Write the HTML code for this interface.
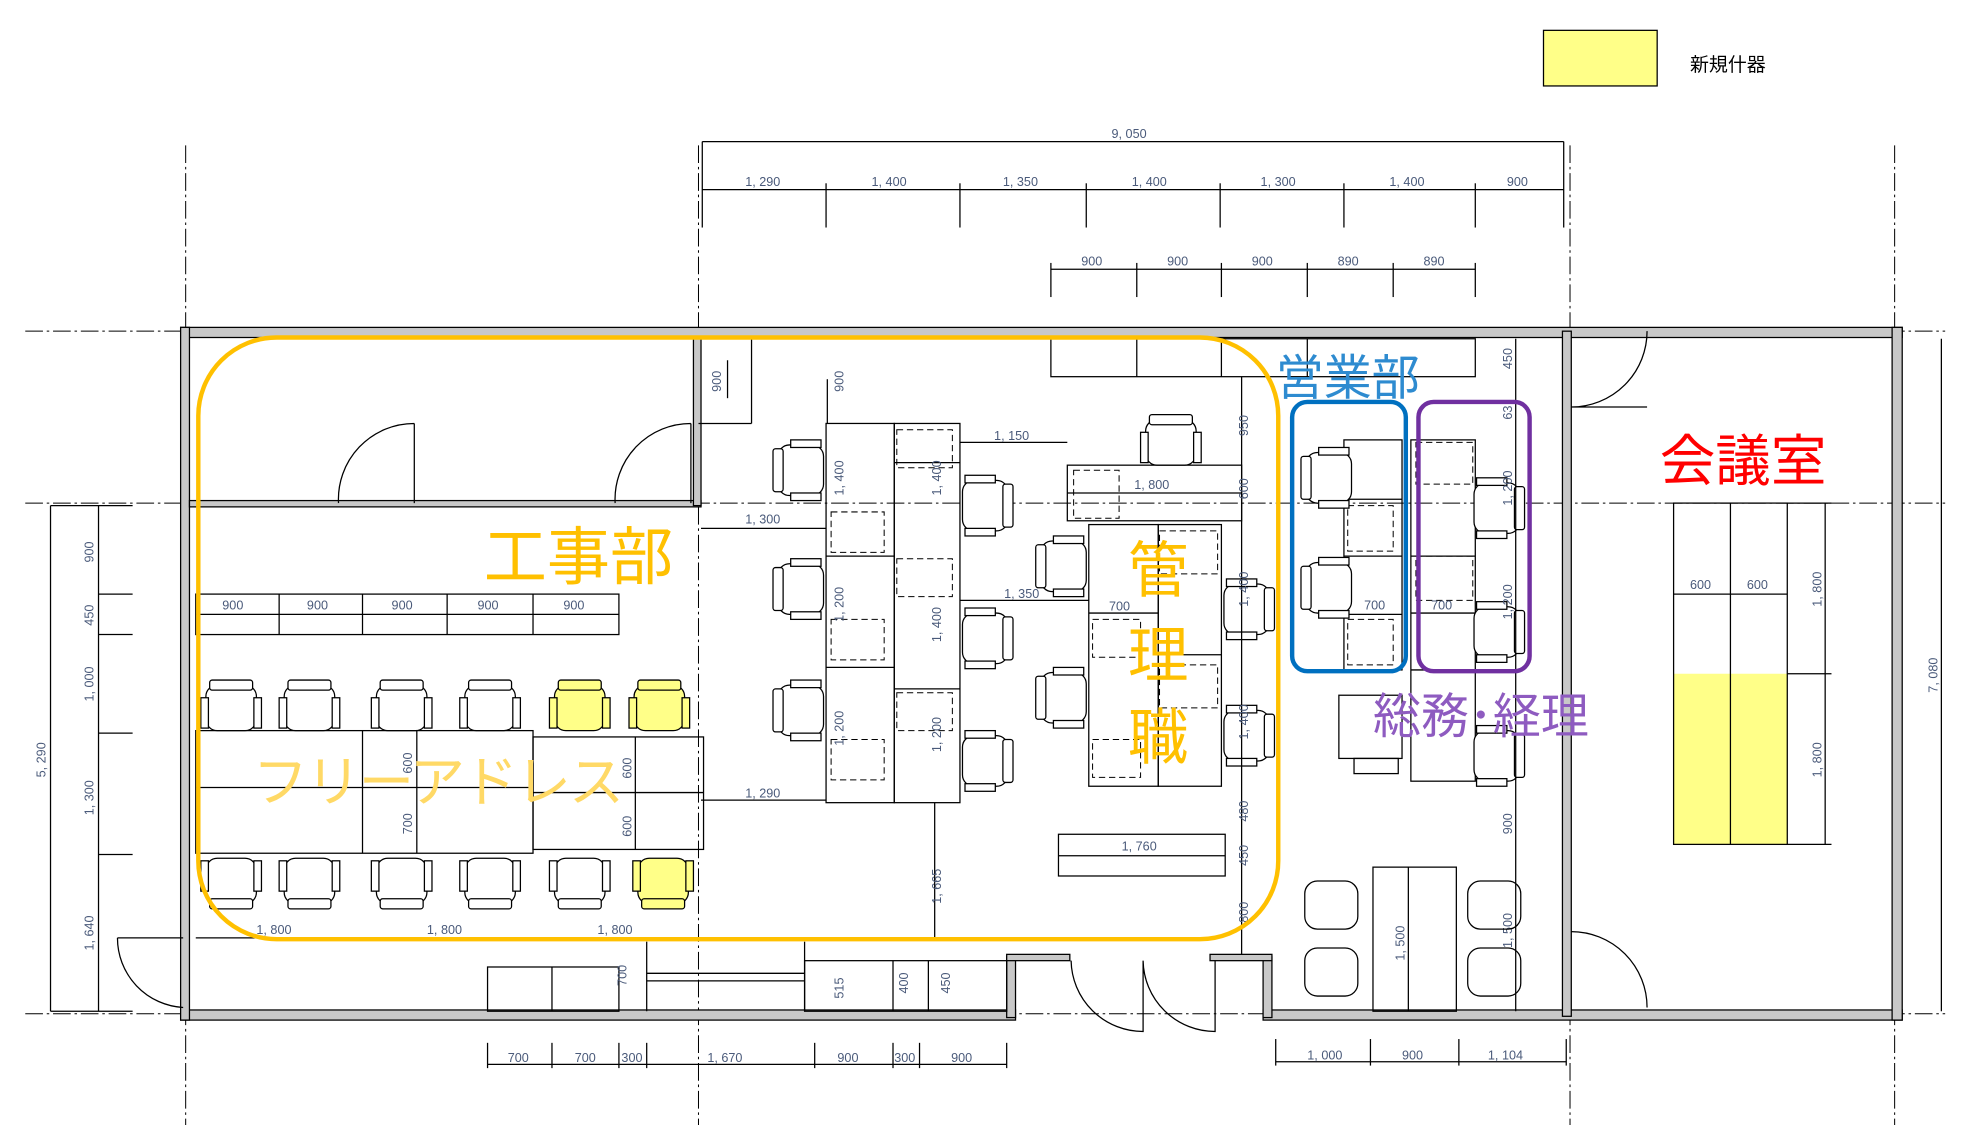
<!DOCTYPE html>
<html><head><meta charset="utf-8"><style>
html,body{margin:0;padding:0;background:#fff;}
svg{display:block;}
text{font-family:"Liberation Sans","Noto Sans CJK JP",sans-serif;}
.d{font-size:10px;fill:#4a5a7a;}
.l{stroke:#000;stroke-width:1;fill:none;}
.g{stroke:#000;stroke-width:0.8;fill:none;stroke-dasharray:14 3 2 3;}
.w{stroke:#000;stroke-width:1;fill:#c8c8c8;}
.ds{stroke:#000;stroke-width:0.8;fill:none;stroke-dasharray:5 3;}
</style></head><body>
<svg width="1978" height="1125" viewBox="0 0 1566 890" preserveAspectRatio="none" xmlns="http://www.w3.org/2000/svg">
<defs>
<g id="chU"><rect x="-20" y="2" width="40" height="36" rx="9" fill="#fff" stroke="#000"/><rect x="-17" y="-2" width="34" height="8" rx="2" fill="#fff" stroke="#000"/><rect x="-24" y="12" width="6" height="24" fill="#fff" stroke="#000"/><rect x="18" y="12" width="6" height="24" fill="#fff" stroke="#000"/></g>
<g id="chY"><rect x="-20" y="2" width="40" height="36" rx="9" fill="#ffff88" stroke="#000"/><rect x="-17" y="-2" width="34" height="8" rx="2" fill="#ffff88" stroke="#000"/><rect x="-24" y="12" width="6" height="24" fill="#ffff88" stroke="#000"/><rect x="18" y="12" width="6" height="24" fill="#ffff88" stroke="#000"/></g>
<g id="chL"><rect x="2" y="-20" width="36" height="40" rx="9" fill="#fff" stroke="#000"/><rect x="-2" y="-17" width="8" height="34" rx="2" fill="#fff" stroke="#000"/><rect x="12" y="-24" width="24" height="6" fill="#fff" stroke="#000"/><rect x="12" y="18" width="24" height="6" fill="#fff" stroke="#000"/></g>
</defs>
<rect width="1566" height="890" fill="#fff"/>
<!-- legend -->
<rect x="1222" y="24" width="90" height="44" fill="#ffff88" stroke="#000"/>
<text x="1338" y="56" font-size="15">新規什器</text>

<!-- grid lines -->
<line class="g" x1="147" y1="115" x2="147" y2="890"/>
<line class="g" x1="553" y1="115" x2="553" y2="890"/>
<line class="g" x1="1243" y1="115" x2="1243" y2="890"/>
<line class="g" x1="1500" y1="115" x2="1500" y2="890"/>
<line class="g" x1="20" y1="262" x2="1540" y2="262"/>
<line class="g" x1="20" y1="398" x2="1540" y2="398"/>
<line class="g" x1="20" y1="802" x2="1540" y2="802"/>

<!-- top dims -->
<line class="l" x1="556" y1="112" x2="1238" y2="112"/>
<text class="d" x="880" y="109">9, 050</text>
<line class="l" x1="556" y1="150" x2="1238" y2="150"/>
<g class="l"><line x1="556" y1="112" x2="556" y2="180"/><line x1="654" y1="145" x2="654" y2="180"/><line x1="760" y1="145" x2="760" y2="180"/><line x1="860" y1="145" x2="860" y2="180"/><line x1="966" y1="145" x2="966" y2="180"/><line x1="1064" y1="145" x2="1064" y2="180"/><line x1="1168" y1="145" x2="1168" y2="180"/><line x1="1238" y1="112" x2="1238" y2="180"/></g>
<text class="d" x="590" y="147">1, 290</text><text class="d" x="690" y="147">1, 400</text><text class="d" x="794" y="147">1, 350</text><text class="d" x="896" y="147">1, 400</text><text class="d" x="998" y="147">1, 300</text><text class="d" x="1100" y="147">1, 400</text><text class="d" x="1193" y="147">900</text>
<line class="l" x1="832" y1="213" x2="1168" y2="213"/>
<g class="l"><line x1="832" y1="208" x2="832" y2="235"/><line x1="900" y1="208" x2="900" y2="235"/><line x1="967" y1="208" x2="967" y2="235"/><line x1="1035" y1="208" x2="1035" y2="235"/><line x1="1103" y1="208" x2="1103" y2="235"/><line x1="1168" y1="208" x2="1168" y2="235"/></g>
<text class="d" x="856" y="210">900</text><text class="d" x="924" y="210">900</text><text class="d" x="991" y="210">900</text><text class="d" x="1059" y="210">890</text><text class="d" x="1127" y="210">890</text>

<!-- outer walls -->
<rect x="143" y="259" width="1363" height="8" class="w"/>
<rect x="143" y="799" width="661" height="8" class="w"/>
<rect x="1000" y="799" width="506" height="8" class="w"/>
<rect x="143" y="259" width="7" height="548" class="w"/>
<rect x="1498" y="259" width="8" height="548" class="w"/>
<rect x="1237" y="262" width="7" height="542" class="w"/>
<rect x="797" y="757" width="7" height="48" class="w"/>
<rect x="1000" y="757" width="7" height="48" class="w"/>
<rect x="797" y="755" width="50" height="5" class="w"/>
<rect x="958" y="755" width="49" height="5" class="w"/>
<!-- interior walls top-left rooms -->
<rect x="150" y="396" width="405" height="5" class="w"/>
<rect x="549" y="267" width="6" height="133" class="w"/>
<path class="l" d="M328 335 V398 M328 335 A60 60 0 0 0 268 398"/>
<path class="l" d="M547 335 V398 M547 335 A60 60 0 0 0 487 398"/>
<path class="l" d="M93 742 H145 M93 742 A55 55 0 0 0 145 797"/>
<path class="l" d="M1244 322 A60 60 0 0 0 1304 262 M1244 322 H1304" />
<path class="l" d="M1244 737 A60 60 0 0 1 1304 797"/>
<path class="l" d="M905 760 V816 A57 57 0 0 1 848 760 M905 760 A57 57 0 0 0 962 816 V760"/>
<line class="l" x1="553" y1="335" x2="595" y2="335"/><line class="l" x1="595" y1="267" x2="595" y2="335"/>

<!-- left dims -->
<line class="l" x1="40" y1="400" x2="40" y2="800"/>
<text class="d" transform="translate(36,615) rotate(-90)">5, 290</text>
<line class="l" x1="78" y1="400" x2="78" y2="800"/>
<g class="l"><line x1="40" y1="400" x2="105" y2="400"/><line x1="78" y1="470" x2="105" y2="470"/><line x1="78" y1="502" x2="105" y2="502"/><line x1="78" y1="580" x2="105" y2="580"/><line x1="78" y1="676" x2="105" y2="676"/><line x1="40" y1="800" x2="105" y2="800"/></g>
<text class="d" transform="translate(74,445) rotate(-90)">900</text>
<text class="d" transform="translate(74,495) rotate(-90)">450</text>
<text class="d" transform="translate(74,555) rotate(-90)">1, 000</text>
<text class="d" transform="translate(74,645) rotate(-90)">1, 300</text>
<text class="d" transform="translate(74,752) rotate(-90)">1, 640</text>

<!-- shelf row -->
<rect x="155" y="470" width="335" height="32" class="l"/>
<line class="l" x1="155" y1="486" x2="490" y2="486"/>
<g class="l"><line x1="221" y1="470" x2="221" y2="502"/><line x1="287" y1="470" x2="287" y2="502"/><line x1="354" y1="470" x2="354" y2="502"/><line x1="422" y1="470" x2="422" y2="502"/></g>
<text class="d" x="176" y="482">900</text><text class="d" x="243" y="482">900</text><text class="d" x="310" y="482">900</text><text class="d" x="378" y="482">900</text><text class="d" x="446" y="482">900</text>

<!-- free address table -->
<rect x="155" y="578" width="267" height="97" class="l"/>
<line class="l" x1="155" y1="623" x2="422" y2="623"/>
<line class="l" x1="287" y1="578" x2="287" y2="675"/><line class="l" x1="330" y1="578" x2="330" y2="675"/>
<rect x="422" y="583" width="135" height="89" class="l"/>
<line class="l" x1="422" y1="627" x2="557" y2="627"/><line class="l" x1="503" y1="583" x2="503" y2="672"/>
<text class="d" transform="translate(326,612) rotate(-90)">600</text>
<text class="d" transform="translate(326,660) rotate(-90)">700</text>
<text class="d" transform="translate(500,616) rotate(-90)">600</text>
<text class="d" transform="translate(500,662) rotate(-90)">600</text>
<use href="#chU" x="183" y="540"/><use href="#chU" x="245" y="540"/><use href="#chU" x="318" y="540"/><use href="#chU" x="388" y="540"/>
<use href="#chY" x="459" y="540"/><use href="#chY" x="522" y="540"/>
<use href="#chU" transform="translate(183,717) rotate(180)"/>
<use href="#chU" transform="translate(245,717) rotate(180)"/>
<use href="#chU" transform="translate(318,717) rotate(180)"/>
<use href="#chU" transform="translate(388,717) rotate(180)"/>
<use href="#chU" transform="translate(459,717) rotate(180)"/>
<use href="#chY" transform="translate(525,717) rotate(180)"/>
<line class="l" x1="155" y1="742" x2="553" y2="742"/>
<text class="d" x="203" y="739">1, 800</text><text class="d" x="338" y="739">1, 800</text><text class="d" x="473" y="739">1, 800</text>

<!-- center desks -->
<rect x="654" y="335" width="54" height="300" class="l"/><rect x="708" y="335" width="52" height="300" class="l"/>
<line class="l" x1="654" y1="440" x2="708" y2="440"/><line class="l" x1="654" y1="528" x2="708" y2="528"/>
<line class="l" x1="708" y1="366" x2="760" y2="366"/><line class="l" x1="708" y1="545" x2="760" y2="545"/>
<rect class="ds" x="710" y="340" width="44" height="30"/><rect class="ds" x="658" y="405" width="42" height="32"/><rect class="ds" x="710" y="442" width="44" height="30"/><rect class="ds" x="658" y="490" width="42" height="32"/><rect class="ds" x="710" y="548" width="44" height="30"/><rect class="ds" x="658" y="585" width="42" height="32"/>
<text class="d" transform="translate(668,392) rotate(-90)">1, 400</text>
<text class="d" transform="translate(745,392) rotate(-90)">1, 400</text>
<text class="d" transform="translate(668,492) rotate(-90)">1, 200</text>
<text class="d" transform="translate(745,508) rotate(-90)">1, 400</text>
<text class="d" transform="translate(668,590) rotate(-90)">1, 200</text>
<text class="d" transform="translate(745,595) rotate(-90)">1, 200</text>
<line class="l" x1="740" y1="635" x2="740" y2="742"/><text class="d" transform="translate(745,715) rotate(-90)">1, 665</text>
<use href="#chL" x="614" y="372"/><use href="#chL" x="614" y="466"/><use href="#chL" x="614" y="562"/>
<use href="#chL" transform="translate(800,400) rotate(180)"/>
<use href="#chL" transform="translate(800,505) rotate(180)"/>
<use href="#chL" transform="translate(800,602) rotate(180)"/>
<line class="l" x1="555" y1="418" x2="654" y2="418"/><text class="d" x="590" y="414">1, 300</text>
<line class="l" x1="555" y1="633" x2="654" y2="633"/><text class="d" x="590" y="631">1, 290</text>
<line class="l" x1="760" y1="350" x2="845" y2="350"/><text class="d" x="787" y="348">1, 150</text>
<line class="l" x1="760" y1="475" x2="862" y2="475"/><text class="d" x="795" y="473">1, 350</text>
<line class="l" x1="655" y1="300" x2="655" y2="335"/><text class="d" transform="translate(668,310) rotate(-90)">900</text>
<line class="l" x1="576" y1="285" x2="576" y2="315"/><text class="d" transform="translate(571,310) rotate(-90)">900</text>

<!-- manager area -->
<rect x="832" y="268" width="336" height="30" class="l"/><line class="l" x1="900" y1="268" x2="900" y2="298"/><line class="l" x1="967" y1="268" x2="967" y2="298"/><line class="l" x1="1035" y1="268" x2="1035" y2="298"/>
<rect x="845" y="368" width="138" height="44" class="l"/><rect class="ds" x="850" y="372" width="36" height="38"/>
<text class="d" x="898" y="387">1, 800</text><line class="l" x1="845" y1="390" x2="983" y2="390"/>
<use href="#chU" x="927" y="330"/>
<rect x="862" y="415" width="55" height="207" class="l"/><rect x="917" y="415" width="50" height="207" class="l"/>
<line class="l" x1="862" y1="485" x2="917" y2="485"/><line class="l" x1="917" y1="518" x2="967" y2="518"/>
<rect class="ds" x="918" y="420" width="46" height="34"/><rect class="ds" x="865" y="490" width="38" height="30"/><rect class="ds" x="918" y="526" width="46" height="34"/><rect class="ds" x="865" y="585" width="38" height="30"/>
<text class="d" x="878" y="483">700</text>
<use href="#chL" x="822" y="448"/><use href="#chL" x="822" y="552"/>
<use href="#chL" transform="translate(1007,482) rotate(180)"/>
<use href="#chL" transform="translate(1007,582) rotate(180)"/>
<rect x="838" y="660" width="132" height="33" class="l"/><line class="l" x1="838" y1="677" x2="970" y2="677"/><text class="d" x="888" y="673">1, 760</text>
<line class="l" x1="983" y1="298" x2="983" y2="755"/>
<text class="d" transform="translate(988,345) rotate(-90)">950</text>
<text class="d" transform="translate(988,395) rotate(-90)">600</text>
<text class="d" transform="translate(988,480) rotate(-90)">1, 400</text>
<text class="d" transform="translate(988,585) rotate(-90)">1, 400</text>
<text class="d" transform="translate(988,650) rotate(-90)">480</text>
<text class="d" transform="translate(988,685) rotate(-90)">450</text>
<text class="d" transform="translate(988,730) rotate(-90)">800</text>

<!-- sales -->
<rect x="1064" y="348" width="46" height="182" class="l"/>
<line class="l" x1="1064" y1="395" x2="1110" y2="395"/><line class="l" x1="1064" y1="440" x2="1110" y2="440"/><line class="l" x1="1064" y1="486" x2="1110" y2="486"/>
<rect class="ds" x="1067" y="400" width="36" height="36"/><rect class="ds" x="1067" y="490" width="36" height="36"/>
<text class="d" x="1080" y="482">700</text>
<use href="#chL" x="1032" y="378"/><use href="#chL" x="1032" y="465"/>
<!-- general affairs -->
<rect x="1117" y="348" width="51" height="270" class="l"/>
<line class="l" x1="1117" y1="440" x2="1168" y2="440"/><line class="l" x1="1117" y1="485" x2="1168" y2="485"/><line class="l" x1="1117" y1="530" x2="1168" y2="530"/>
<rect class="ds" x="1121" y="350" width="45" height="33"/><rect class="ds" x="1121" y="440" width="45" height="35"/>
<text class="d" x="1133" y="482">700</text>
<use href="#chL" transform="translate(1205,402) rotate(180)"/>
<use href="#chL" transform="translate(1205,500) rotate(180)"/>
<use href="#chL" transform="translate(1205,598) rotate(180)"/>
<rect x="1060" y="550" width="50" height="50" class="l"/><rect x="1072" y="600" width="35" height="12" class="l"/>
<line class="l" x1="1200" y1="268" x2="1200" y2="800"/>
<text class="d" transform="translate(1197,292) rotate(-90)">450</text>
<text class="d" transform="translate(1197,332) rotate(-90)">63</text>
<text class="d" transform="translate(1197,400) rotate(-90)">1, 200</text>
<text class="d" transform="translate(1197,490) rotate(-90)">1, 200</text>
<text class="d" transform="translate(1197,660) rotate(-90)">900</text>
<text class="d" transform="translate(1197,750) rotate(-90)">1, 500</text>
<!-- lounge -->
<rect x="1087" y="686" width="66" height="114" class="l"/><line class="l" x1="1115" y1="686" x2="1115" y2="800"/>
<text class="d" transform="translate(1112,760) rotate(-90)">1, 500</text>
<rect x="1033" y="697" width="42" height="38" rx="10" class="l"/><rect x="1033" y="750" width="42" height="38" rx="10" class="l"/>
<rect x="1162" y="697" width="42" height="38" rx="10" class="l"/><rect x="1162" y="750" width="42" height="38" rx="10" class="l"/>

<!-- meeting room -->
<rect x="1325" y="533" width="90" height="135" fill="#ffff88"/>
<rect x="1325" y="398" width="90" height="270" class="l"/><line class="l" x1="1370" y1="398" x2="1370" y2="668"/><line class="l" x1="1325" y1="470" x2="1415" y2="470"/>
<text class="d" x="1338" y="466">600</text><text class="d" x="1383" y="466">600</text>
<line class="l" x1="1445" y1="398" x2="1445" y2="668"/>
<g class="l"><line x1="1415" y1="398" x2="1450" y2="398"/><line x1="1415" y1="533" x2="1450" y2="533"/><line x1="1415" y1="668" x2="1450" y2="668"/></g>
<text class="d" transform="translate(1442,480) rotate(-90)">1, 800</text>
<text class="d" transform="translate(1442,615) rotate(-90)">1, 800</text>
<line class="l" x1="1537" y1="268" x2="1537" y2="800"/>
<text class="d" transform="translate(1534,548) rotate(-90)">7, 080</text>

<!-- bottom area -->
<rect x="386" y="765" width="104" height="35" class="l"/><line class="l" x1="437" y1="765" x2="437" y2="800"/>
<line class="l" x1="512" y1="770" x2="637" y2="770"/><line class="l" x1="512" y1="776" x2="637" y2="776"/><line class="l" x1="512" y1="745" x2="512" y2="800"/><line class="l" x1="637" y1="745" x2="637" y2="800"/>
<rect x="637" y="760" width="160" height="40" class="l"/><line class="l" x1="707" y1="760" x2="707" y2="800"/><line class="l" x1="735" y1="760" x2="735" y2="800"/>
<text class="d" transform="translate(668,790) rotate(-90)">515</text>
<text class="d" transform="translate(719,786) rotate(-90)">400</text>
<text class="d" transform="translate(752,786) rotate(-90)">450</text>
<text class="d" transform="translate(496,780) rotate(-90)">700</text>
<line class="l" x1="386" y1="842" x2="797" y2="842"/>
<g class="l"><line x1="386" y1="825" x2="386" y2="845"/><line x1="437" y1="825" x2="437" y2="845"/><line x1="490" y1="825" x2="490" y2="845"/><line x1="512" y1="825" x2="512" y2="845"/><line x1="645" y1="825" x2="645" y2="845"/><line x1="707" y1="825" x2="707" y2="845"/><line x1="728" y1="825" x2="728" y2="845"/><line x1="797" y1="825" x2="797" y2="845"/></g>
<text class="d" x="402" y="840">700</text><text class="d" x="455" y="840">700</text><text class="d" x="492" y="840">300</text><text class="d" x="560" y="840">1, 670</text><text class="d" x="663" y="840">900</text><text class="d" x="708" y="840">300</text><text class="d" x="753" y="840">900</text>
<line class="l" x1="1010" y1="840" x2="1240" y2="840"/>
<g class="l"><line x1="1010" y1="822" x2="1010" y2="843"/><line x1="1085" y1="822" x2="1085" y2="843"/><line x1="1155" y1="822" x2="1155" y2="843"/><line x1="1240" y1="822" x2="1240" y2="843"/></g>
<text class="d" x="1035" y="838">1, 000</text><text class="d" x="1110" y="838">900</text><text class="d" x="1178" y="838">1, 104</text>

<!-- highlights -->
<rect x="157" y="267" width="855" height="476" rx="62" fill="none" stroke="#FFC000" stroke-width="3.5"/>
<rect x="1023" y="318" width="90" height="213" rx="12" fill="none" stroke="#0070C0" stroke-width="3.5"/>
<rect x="1123" y="318" width="88" height="213" rx="12" fill="none" stroke="#7030A0" stroke-width="3.5"/>
<text x="383" y="458" font-size="50" fill="#FFC000">工事部</text>
<text x="200" y="634" font-size="44" fill="#FFD966" letter-spacing="-2">フリーアドレス</text>
<text x="893" y="468" font-size="48" fill="#FFC000">管</text>
<text x="893" y="535" font-size="48" fill="#FFC000">理</text>
<text x="893" y="600" font-size="48" fill="#FFC000">職</text>
<text x="1010" y="312" font-size="38" fill="#2E8BD0">営業部</text>
<text x="1087" y="580" font-size="38" fill="#8E5BC0">総務･経理</text>
<text x="1314" y="380" font-size="44" fill="#FF0000">会議室</text>
</svg>
</body></html>
